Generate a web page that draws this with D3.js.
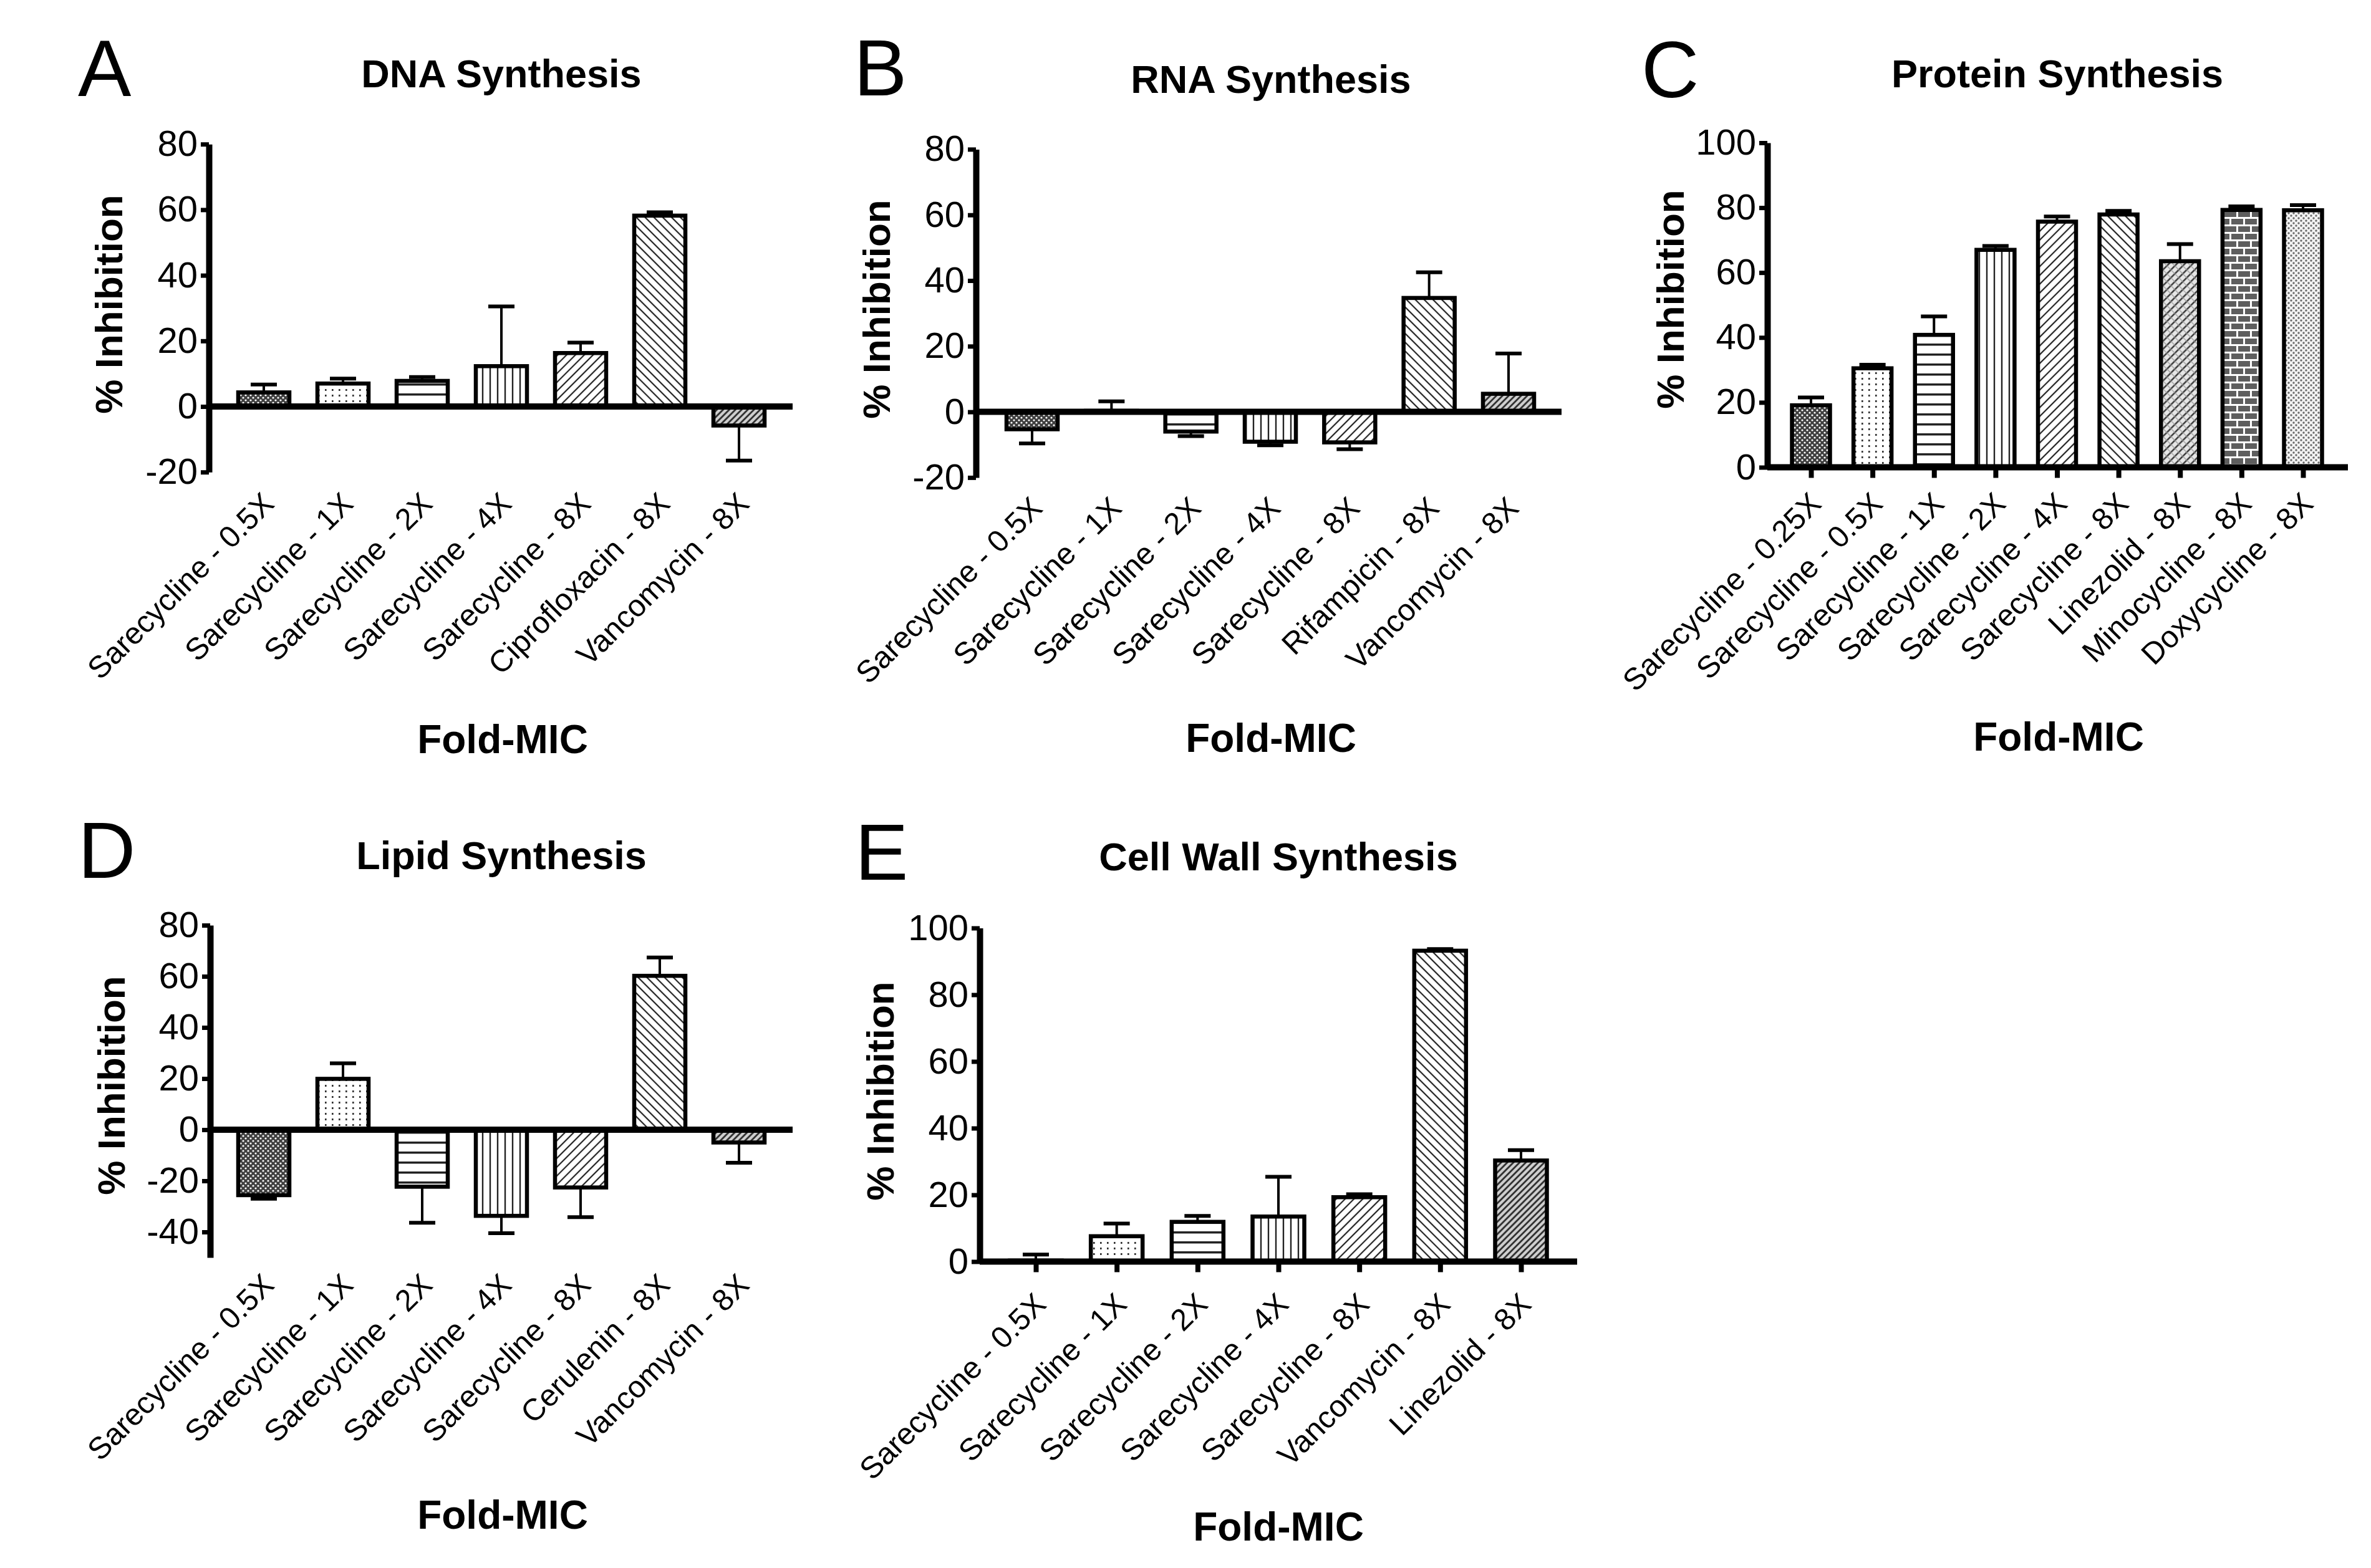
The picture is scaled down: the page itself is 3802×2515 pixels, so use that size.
<!DOCTYPE html>
<html><head><meta charset="utf-8">
<script src="https://cdn.jsdelivr.net/npm/d3@7"></script>
<style>html,body{margin:0;padding:0;background:#fff;}</style>
</head><body><svg id="chart"></svg>
<script>
// ---------------- DATA ----------------
const catsA = ["Sarecycline - 0.5X","Sarecycline - 1X","Sarecycline - 2X","Sarecycline - 4X","Sarecycline - 8X","Ciprofloxacin - 8X","Vancomycin - 8X"];
const valsA = [4.3, 7.0, 7.8, 12.3, 16.3, 58.2, -5.8];
const errsA = [2.4, 1.5, 1.2, 18.2, 3.2, 1.0, 10.7];

const catsB = ["Sarecycline - 0.5X","Sarecycline - 1X","Sarecycline - 2X","Sarecycline - 4X","Sarecycline - 8X","Rifampicin - 8X","Vancomycin - 8X"];
const valsB = [-5.3, 0.3, -6.0, -9.1, -9.3, 34.7, 5.5];
const errsB = [4.3, 2.9, 1.4, 1.1, 2.1, 7.8, 12.3];

const catsC = ["Sarecycline - 0.25X","Sarecycline - 0.5X","Sarecycline - 1X","Sarecycline - 2X","Sarecycline - 4X","Sarecycline - 8X","Linezolid - 8X","Minocycline - 8X","Doxycycline - 8X"];
const valsC = [19.1, 30.5, 40.8, 67.0, 75.7, 77.9, 63.5, 79.3, 79.2];
const errsC = [2.4, 1.1, 5.7, 1.2, 1.6, 1.1, 5.3, 1.1, 1.6];

const catsD = ["Sarecycline - 0.5X","Sarecycline - 1X","Sarecycline - 2X","Sarecycline - 4X","Sarecycline - 8X","Cerulenin - 8X","Vancomycin - 8X"];
const valsD = [-25.6, 19.9, -22.3, -33.7, -22.6, 60.2, -5.0];
const errsD = [1.4, 6.1, 14.1, 6.8, 11.6, 7.2, 7.9];

const catsE = ["Sarecycline - 0.5X","Sarecycline - 1X","Sarecycline - 2X","Sarecycline - 4X","Sarecycline - 8X","Vancomycin - 8X","Linezolid - 8X"];
const valsE = [0.3, 7.6, 11.9, 13.5, 19.3, 93.2, 30.3];
const errsE = [1.8, 3.8, 1.8, 11.9, 0.9, 0.5, 3.1];

const ticksAB = [-20, 0, 20, 40, 60, 80];
const ticksC = [0, 20, 40, 60, 80, 100];
const ticksD = [-40, -20, 0, 20, 40, 60, 80];
const ticksE = [0, 20, 40, 60, 80, 100];

const yAxisTitle = "% Inhibition";
const xAxisTitle = "Fold-MIC";

// ---------------- LAYOUT ----------------
const W = 3802, H = 2515;
const FONT = "'Liberation Sans', Arial, Helvetica, sans-serif";

const svg = d3.select("#chart").attr("width", W).attr("height", H)
  .attr("viewBox", `0 0 ${W} ${H}`).style("background", "#fff");

const defs = svg.append("defs");
function linePattern(id, angle, spacing, width, color, bg) {
  const p = defs.append("pattern").attr("id", id).attr("patternUnits", "userSpaceOnUse")
    .attr("width", spacing).attr("height", spacing)
    .attr("patternTransform", `rotate(${angle})`);
  p.append("rect").attr("width", spacing).attr("height", spacing).attr("fill", bg || "#fff");
  p.append("line").attr("x1", spacing / 2).attr("y1", 0).attr("x2", spacing / 2).attr("y2", spacing)
    .attr("stroke", color).attr("stroke-width", width);
  return p;
}
// mesh (dark)
{
  const p = defs.append("pattern").attr("id", "mesh").attr("patternUnits", "userSpaceOnUse").attr("width", 8).attr("height", 8);
  p.append("rect").attr("width", 8).attr("height", 8).attr("fill", "#3f3f3f");
  p.append("circle").attr("cx", 2).attr("cy", 2).attr("r", 1.6).attr("fill", "#fff");
  p.append("circle").attr("cx", 6).attr("cy", 6).attr("r", 1.6).attr("fill", "#fff");
}
// dots
{
  const p = defs.append("pattern").attr("id", "dots").attr("patternUnits", "userSpaceOnUse").attr("width", 11).attr("height", 9);
  p.append("rect").attr("width", 11).attr("height", 9).attr("fill", "#fff");
  p.append("rect").attr("x", 4).attr("y", 3).attr("width", 2.6).attr("height", 3).attr("fill", "#333");
}
// horizontal lines
{
  const p = defs.append("pattern").attr("id", "hlines").attr("patternUnits", "userSpaceOnUse").attr("width", 10).attr("height", 16);
  p.append("rect").attr("width", 10).attr("height", 16).attr("fill", "#fff");
  p.append("rect").attr("x", 0).attr("y", 7).attr("width", 10).attr("height", 3.5).attr("fill", "#222");
}
linePattern("vlines", 0, 12, 2.4, "#222");
linePattern("fdiag", 45, 10, 2.2, "#222");
linePattern("bdiag", -45, 10, 2.2, "#222");
linePattern("dfdiag", 45, 7, 2.6, "#222", "#cfcfcf");
// crosshatch diagonal (Linezolid C)
{
  const p = defs.append("pattern").attr("id", "xdiag").attr("patternUnits", "userSpaceOnUse").attr("width", 9).attr("height", 9)
    .attr("patternTransform", "rotate(45)");
  p.append("rect").attr("width", 9).attr("height", 9).attr("fill", "#e6e6e6");
  p.append("line").attr("x1", 4.5).attr("y1", 0).attr("x2", 4.5).attr("y2", 9).attr("stroke", "#222").attr("stroke-width", 2.2);
  p.append("line").attr("x1", 0).attr("y1", 4.5).attr("x2", 9).attr("y2", 4.5).attr("stroke", "#999").attr("stroke-width", 1.3);
}
// brick
{
  const p = defs.append("pattern").attr("id", "brick").attr("patternUnits", "userSpaceOnUse").attr("width", 22).attr("height", 24);
  p.append("rect").attr("width", 22).attr("height", 24).attr("fill", "#5e5e5e");
  p.append("rect").attr("x", 0).attr("y", 0).attr("width", 22).attr("height", 3).attr("fill", "#fff");
  p.append("rect").attr("x", 0).attr("y", 12).attr("width", 22).attr("height", 3).attr("fill", "#fff");
  p.append("rect").attr("x", 0).attr("y", 0).attr("width", 3).attr("height", 12).attr("fill", "#fff");
  p.append("rect").attr("x", 11).attr("y", 12).attr("width", 3).attr("height", 12).attr("fill", "#fff");
}
// light dots
{
  const p = defs.append("pattern").attr("id", "ldots").attr("patternUnits", "userSpaceOnUse").attr("width", 8).attr("height", 8);
  p.append("rect").attr("width", 8).attr("height", 8).attr("fill", "#f4f4f4");
  p.append("circle").attr("cx", 2).attr("cy", 2).attr("r", 1.7).attr("fill", "#6a6a6a");
  p.append("circle").attr("cx", 6).attr("cy", 6).attr("r", 1.7).attr("fill", "#6a6a6a");
}

const pat7 = ["mesh", "dots", "hlines", "vlines", "fdiag", "bdiag", "dfdiag"];
const pat9 = ["mesh", "dots", "hlines", "vlines", "fdiag", "bdiag", "xdiag", "brick", "ldots"];

const panels = [
  { letter: "A", title: "DNA Synthesis", cats: catsA, vals: valsA, errs: errsA, domain: [-20, 80], ticks: ticksAB,
    yr: [757.2, 231.2], axisX: 335, xEnd: 1271, c: [423, 1185], barW: 82, labelY: 811, xTicks: false,
    letterPos: [125, 154], titlePos: [804, 140], foldPos: [806, 1208], ylabPos: [196, 488], pats: pat7 },
  { letter: "B", title: "RNA Synthesis", cats: catsB, vals: valsB, errs: errsB, domain: [-20, 80], ticks: ticksAB,
    yr: [765.9, 239.4], axisX: 1565, xEnd: 2504, c: [1655, 2419], barW: 82, labelY: 818, xTicks: false,
    letterPos: [1369, 153], titlePos: [2038, 149], foldPos: [2038, 1206], ylabPos: [1427, 496], pats: pat7 },
  { letter: "C", title: "Protein Synthesis", cats: catsC, vals: valsC, errs: errsC, domain: [0, 100], ticks: ticksC,
    yr: [749.5, 229], axisX: 2834, xEnd: 3765, c: [2904, 3693], barW: 61, labelY: 811, xTicks: true,
    letterPos: [2632, 156], titlePos: [3299, 140], foldPos: [3301, 1204], ylabPos: [2700, 480], pats: pat9 },
  { letter: "D", title: "Lipid Synthesis", cats: catsD, vals: valsD, errs: errsD, domain: [-50, 80], ticks: ticksD,
    yr: [2017, 1484], axisX: 337, xEnd: 1271, c: [423, 1185], barW: 82, labelY: 2064, xTicks: false,
    letterPos: [125, 1408], titlePos: [804, 1394], foldPos: [806, 2452], ylabPos: [200, 1741], pats: pat7 },
  { letter: "E", title: "Cell Wall Synthesis", cats: catsE, vals: valsE, errs: errsE, domain: [0, 100], ticks: ticksE,
    yr: [2023.5, 1488.5], axisX: 1571, xEnd: 2529, c: [1661, 2439], barW: 83, labelY: 2095, xTicks: true,
    letterPos: [1371, 1411], titlePos: [2050, 1396], foldPos: [2050, 2471], ylabPos: [1433, 1750], pats: pat7 }
];

panels.forEach(P => {
  const g = svg.append("g").attr("class", "panel");
  const y = d3.scaleLinear().domain(P.domain).range(P.yr);
  const x = d3.scalePoint().domain(P.cats).range(P.c);
  const rows = P.cats.map((k, i) => ({ k, v: P.vals[i], e: P.errs[i], pat: P.pats[i] }));
  const y0 = y(0);

  // bars
  g.selectAll("rect.bar").data(rows).join("rect").attr("class", "bar")
    .attr("x", d => x(d.k) - P.barW / 2)
    .attr("width", P.barW)
    .attr("y", d => Math.min(y(d.v), y0))
    .attr("height", d => Math.abs(y(d.v) - y0))
    .attr("fill", d => `url(#${d.pat})`)
    .attr("stroke", "#000").attr("stroke-width", 6.5);

  // error bars (one-sided, away from zero)
  const tip = d => d.v >= 0 ? d.v + d.e : d.v - d.e;
  g.selectAll("line.err").data(rows).join("line").attr("class", "err")
    .attr("x1", d => x(d.k)).attr("x2", d => x(d.k))
    .attr("y1", d => y(d.v)).attr("y2", d => y(tip(d)))
    .attr("stroke", "#000").attr("stroke-width", 4);
  g.selectAll("line.cap").data(rows).join("line").attr("class", "cap")
    .attr("x1", d => x(d.k) - 21).attr("x2", d => x(d.k) + 21)
    .attr("y1", d => y(tip(d))).attr("y2", d => y(tip(d)))
    .attr("stroke", "#000").attr("stroke-width", 6);

  // x axis (at zero)
  const xa = d3.axisBottom(x).tickSize(P.xTicks ? 17 : 0).tickSizeOuter(0).tickFormat("");
  const xg = g.append("g").attr("transform", `translate(0,${y0})`).call(xa);
  xg.select(".domain").remove();
  xg.selectAll(".tick line").attr("stroke", "#000").attr("stroke-width", 8);
  g.append("line").attr("x1", P.axisX).attr("x2", P.xEnd).attr("y1", y0).attr("y2", y0)
    .attr("stroke", "#000").attr("stroke-width", 10);

  // y axis
  const ya = d3.axisLeft(y).tickValues(P.ticks).tickSize(13).tickSizeOuter(0).tickPadding(5)
    .tickFormat(d => String(d));
  const yg = g.append("g").attr("transform", `translate(${P.axisX},0)`).call(ya);
  yg.select(".domain").attr("stroke", "#000").attr("stroke-width", 10);
  yg.selectAll(".tick line").attr("stroke", "#000").attr("stroke-width", 7);
  yg.selectAll(".tick text").attr("font-family", FONT).attr("font-size", 58).attr("fill", "#000");

  // category labels (rotated)
  g.selectAll("text.cat").data(rows).join("text").attr("class", "cat")
    .attr("transform", d => `translate(${x(d.k) + 19},${P.labelY}) rotate(-45)`)
    .attr("text-anchor", "end")
    .attr("font-family", FONT).attr("font-size", 49).attr("fill", "#000")
    .text(d => d.k);

  // titles
  g.append("text").attr("x", P.letterPos[0]).attr("y", P.letterPos[1])
    .attr("font-family", FONT).attr("font-size", 128).attr("fill", "#000").text(P.letter);
  g.append("text").attr("x", P.titlePos[0]).attr("y", P.titlePos[1]).attr("text-anchor", "middle")
    .attr("font-family", FONT).attr("font-size", 63).attr("font-weight", "bold").attr("fill", "#000").text(P.title);
  g.append("text").attr("x", P.foldPos[0]).attr("y", P.foldPos[1]).attr("text-anchor", "middle")
    .attr("font-family", FONT).attr("font-size", 64).attr("font-weight", "bold").attr("fill", "#000").text(xAxisTitle);
  g.append("text").attr("transform", `translate(${P.ylabPos[0]},${P.ylabPos[1]}) rotate(-90)`)
    .attr("text-anchor", "middle")
    .attr("font-family", FONT).attr("font-size", 62).attr("font-weight", "bold").attr("fill", "#000").text(yAxisTitle);
});
</script>
</body></html>
